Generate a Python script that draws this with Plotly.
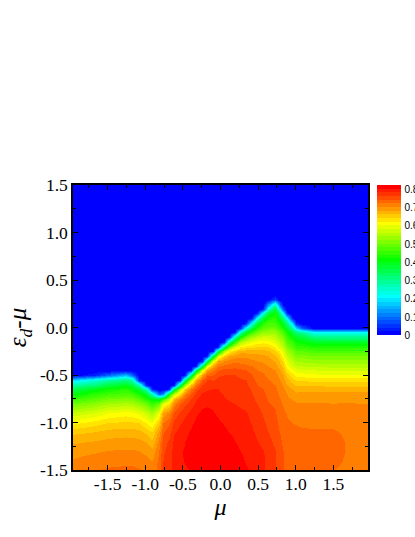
import plotly.graph_objects as go

# grid of the map, chemical potential across and level energy up
mu = [-1.96, -1.7, -1.5, -1.25, -1.18, -1.08, -0.99, -0.91, -0.82, -0.76,
      -0.691, -0.618, -0.544, -0.471, -0.397, -0.324, -0.25, -0.177, -0.103, -0.03,
      0.044, 0.118, 0.191, 0.265, 0.338, 0.412, 0.485, 0.559, 0.63, 0.72,
      0.78, 0.835, 0.89, 0.945, 1.0, 1.08, 1.25, 1.5, 1.7, 1.96]
eps = [-1.5, -1.4, -1.3, -1.2, -1.1, -1.0, -0.9, -0.8, -0.75, -0.7, -0.65, -0.6, -0.55, -0.5, -0.45, -0.4,
       -0.35, -0.3, -0.25, -0.2, -0.15, -0.1, -0.05, 0.0, 0.05, 0.1, 0.15, 0.2, 0.25, 0.3, 0.35, 1.5]

columns = [
    [.708, .702, .693, .677, .655, .615, .565, .50, .455, .40, .35, .29, .18, .01],
    [.718, .709, .697, .682, .66, .63, .58, .52, .48, .44, .39, .31, .24, .03],
    [.723, .713, .701, .687, .668, .642, .60, .54, .50, .46, .42, .36, .28, .09],
    [.725, .715, .703, .689, .671, .645, .61, .55, .51, .47, .44, .39, .31, .16],
    [.725, .715, .703, .689, .67, .645, .605, .545, .505, .46, .42, .36, .28, .09],
    [.722, .712, .70, .686, .667, .64, .595, .525, .48, .43, .37, .28, .03],
    [.716, .706, .695, .68, .655, .62, .57, .50, .44, .38, .28, .03],
    [.71, .70, .685, .665, .64, .60, .54, .45, .40, .27, .03],
    [.728, .727, .722, .71, .69, .655, .60, .50, .39, .08],
    [.76, .76, .757, .75, .738, .72, .685, .60, .46, .12],
    [.771, .772, .770, .764, .753, .737, .708, .635, .565, .42, .03],
    [.787, .790, .789, .785, .778, .766, .747, .71, .665, .57, .36, .03],
    [.794, .798, .798, .794, .787, .778, .763, .74, .71, .64, .55, .34, .03],
    [.798, .801, .802, .80, .795, .787, .776, .757, .74, .71, .65, .55, .34, .03],
    [.801, .805, .808, .807, .803, .796, .787, .773, .762, .745, .715, .66, .56, .34, .03],
    [.805, .81, .814, .813, .81, .805, .797, .785, .778, .768, .752, .725, .67, .57, .34, .03],
    [.812, .818, .822, .821, .818, .812, .805, .795, .79, .783, .773, .76, .735, .68, .58, .34, .03],
    [.82, .824, .826, .825, .822, .816, .807, .797, .791, .785, .778, .77, .762, .735, .69, .59, .34, .03],
    [.822, .826, .828, .826, .82, .813, .802, .795, .791, .787, .78, .771, .759, .74, .715, .685, .60, .36, .03],
    [.825, .828, .827, .822, .815, .805, .795, .788, .786, .783, .78, .773, .766, .757, .738, .715, .68, .58, .36, .03],
    [.825, .825, .821, .814, .806, .798, .79, .784, .781, .779, .776, .772, .767, .76, .747, .726, .70, .65, .54, .34, .03],
    [.825, .822, .816, .809, .799, .793, .787, .782, .779, .776, .773, .77, .765, .76, .748, .73, .71, .68, .62, .50, .30, .03],
    [.821, .816, .808, .80, .795, .79, .785, .78, .777, .774, .771, .768, .764, .76, .748, .733, .715, .69, .65, .58, .46, .28, .03],
    [.812, .806, .80, .794, .79, .787, .783, .778, .774, .771, .768, .765, .762, .757, .745, .73, .713, .695, .67, .62, .54, .42, .25, .03],
    [.803, .798, .794, .79, .787, .784, .781, .776, .773, .77, .767, .763, .76, .752, .74, .726, .71, .695, .67, .63, .58, .50, .39, .23, .03],
    [.796, .791, .788, .785, .782, .779, .775, .769, .765, .761, .757, .753, .748, .741, .731, .72, .705, .69, .67, .635, .60, .54, .46, .37, .22, .03],
    [.79, .787, .784, .781, .777, .772, .767, .76, .755, .75, .745, .74, .734, .728, .72, .712, .70, .688, .67, .645, .61, .56, .50, .44, .36, .22, .03],
    [.783, .784, .781, .776, .77, .764, .758, .752, .748, .744, .74, .735, .729, .723, .716, .707, .697, .685, .668, .645, .615, .575, .525, .48, .44, .37, .23, .03],
    [.772, .774, .771, .766, .76, .754, .748, .742, .738, .734, .73, .726, .721, .715, .708, .70, .69, .68, .663, .64, .61, .575, .53, .49, .46, .43, .37, .24, .10],
    [.762, .763, .761, .756, .752, .747, .742, .737, .733, .729, .724, .72, .714, .708, .70, .69, .678, .663, .645, .62, .59, .56, .53, .49, .46, .44, .42, .38, .25, .05],
    [.748, .748, .747, .745, .741, .736, .731, .725, .722, .718, .713, .708, .702, .695, .684, .673, .66, .645, .62, .59, .56, .53, .50, .46, .43, .39, .33, .22, .10],
    [.74, .741, .74, .737, .733, .729, .724, .718, .714, .71, .705, .698, .69, .68, .668, .655, .635, .61, .59, .565, .535, .50, .47, .43, .38, .31, .20, .07],
    [.733, .734, .733, .731, .727, .723, .718, .711, .705, .699, .69, .68, .667, .65, .63, .605, .585, .565, .535, .505, .475, .45, .42, .37, .30, .20, .03],
    [.728, .73, .73, .728, .725, .72, .715, .706, .699, .69, .68, .667, .65, .63, .605, .58, .56, .535, .51, .48, .455, .42, .37, .29, .18, .03],
    [.725, .728, .728, .727, .724, .719, .713, .703, .695, .685, .672, .656, .637, .615, .59, .565, .54, .51, .48, .45, .42, .38, .31, .17, .03],
    [.727, .731, .733, .731, .724, .716, .71, .702, .696, .687, .674, .657, .637, .61, .585, .56, .535, .51, .48, .45, .41, .37, .29, .08],
    [.728, .733, .735, .731, .723, .715, .709, .702, .696, .687, .674, .656, .634, .605, .58, .555, .53, .50, .47, .43, .39, .31, .20],
    [.722, .729, .732, .73, .723, .715, .708, .701, .695, .686, .673, .655, .633, .603, .578, .553, .528, .50, .47, .43, .38, .30, .21],
    [.708, .714, .717, .717, .715, .713, .708, .702, .695, .686, .673, .655, .633, .603, .578, .553, .528, .50, .47, .43, .38, .30, .21],
    [.703, .707, .71, .71, .71, .709, .706, .70, .695, .686, .673, .655, .633, .603, .578, .553, .528, .50, .47, .43, .38, .30, .21],
]

x_ticks = [-1.5, -1.0, -0.5, 0.0, 0.5, 1.0, 1.5]
x_labels = ["-1.5", "-1.0", "-0.5", "0.0", "0.5", "1.0", "1.5"]
y_ticks = [-1.5, -1.0, -0.5, 0.0, 0.5, 1.0, 1.5]
y_labels = ["-1.5", "-1.0", "-0.5", "0.0", "0.5", "1.0", "1.5"]
bar_ticks = [0, 0.1, 0.2, 0.3, 0.4, 0.5, 0.6, 0.7, 0.8]
bar_labels = ["0", "0.1", "0.2", "0.3", "0.4", "0.5", "0.6", "0.7", "0.8"]

# everything above the listed values is plain blue
z = [col + [0] * (len(eps) - len(col)) for col in columns]

FONT = "Liberation Serif"
WIDTH, HEIGHT = 415, 537
N_BANDS = 41
ANCHORS = [(0, 0, 255), (0, 255, 255), (0, 255, 0), (255, 255, 0), (255, 0, 0)]


def band_color(i):
    pos = i / (N_BANDS - 1) * (len(ANCHORS) - 1)
    k = min(int(pos), len(ANCHORS) - 2)
    t = pos - k
    r, g, b = [round(a + (c - a) * t) for a, c in zip(ANCHORS[k], ANCHORS[k + 1])]
    return f"rgb({r},{g},{b})"


# stepped scale, the map is drawn in flat bands
colorscale = []
for i in range(N_BANDS):
    colorscale.append([i / N_BANDS, band_color(i)])
    colorscale.append([(i + 1) / N_BANDS, band_color(i)])

fig = go.Figure(
    go.Heatmap(
        x=mu,
        y=eps,
        z=z,
        transpose=True,
        zmin=0,
        zmax=0.82,
        zsmooth="best",
        colorscale=colorscale,
        colorbar={
            "x": 1.032,
            "xanchor": "left",
            "xpad": 0,
            "y": 0.472,
            "yanchor": "bottom",
            "ypad": 0,
            "lenmode": "pixels",
            "len": 150,
            "thicknessmode": "pixels",
            "thickness": 24,
            "outlinewidth": 0,
            "tickmode": "array",
            "tickvals": bar_ticks,
            "ticktext": bar_labels,
            "ticks": "outside",
            "ticklen": 2,
            "tickcolor": "rgba(0,0,0,0)",
            "tickfont": {"family": "Liberation Sans", "size": 10, "color": "black"},
        },
        hoverinfo="skip",
    )
)

axis_style = {
    "showgrid": False,
    "zeroline": False,
    "showline": True,
    "linecolor": "black",
    "linewidth": 1.5,
    "mirror": "allticks",
    "ticks": "inside",
    "ticklen": 5,
    "tickwidth": 1.2,
    "tickcolor": "black",
    "tickmode": "array",
    "tickfont": {"family": FONT, "size": 17.5, "color": "black"},
    "minor": {"ticks": "inside", "ticklen": 3, "tickwidth": 1, "tickcolor": "black", "dtick": 0.25, "tick0": 0},
}

fig.update_xaxes(
    range=[-1.96, 1.96],
    tickvals=x_ticks,
    ticktext=x_labels,
    ticklabelstandoff=-3,
    title={"text": "<i>μ</i>", "font": {"family": FONT, "size": 24, "color": "black"}, "standoff": 0},
    **axis_style,
)
fig.update_yaxes(
    range=[-1.5, 1.5],
    tickvals=y_ticks,
    ticktext=y_labels,
    title={"text": "<i>ε<sub>d</sub></i>-<i>μ</i>", "font": {"family": FONT, "size": 25, "color": "black"}, "standoff": 6},
    **axis_style,
)

fig.update_layout(
    width=WIDTH,
    height=HEIGHT,
    margin={"l": 72.5, "r": 46.5, "t": 184.5, "b": 67, "pad": 0, "autoexpand": False},
    font={"family": FONT, "color": "black"},
    paper_bgcolor="white",
    plot_bgcolor="white",
)

fig.write_html(
    "out.html",
    config={"displayModeBar": False},
    post_script="document.body.style.margin='0';",
)
